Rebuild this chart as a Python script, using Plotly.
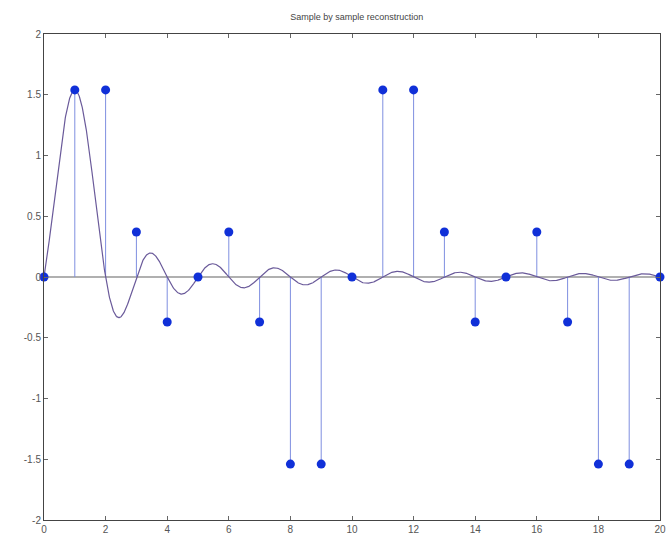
import numpy as np
import plotly.graph_objects as go

n = list(range(21))
samples = [0, 1.54, 1.54, 0.37, -0.37, 0, 0.37, -0.37, -1.54, -1.54, 0,
           1.54, 1.54, 0.37, -0.37, 0, 0.37, -0.37, -1.54, -1.54, 0]
recon_index = 1  # sample currently being reconstructed
x_ticks = [0, 2, 4, 6, 8, 10, 12, 14, 16, 18, 20]
y_ticks = [-2, -1.5, -1, -0.5, 0, 0.5, 1, 1.5, 2]
y_labels = ["-2", "-1.5", "-1", "-0.5", "0", "0.5", "1", "1.5", "2"]

# stems
sx, sy = [], []
for xi, yi in zip(n, samples):
    sx += [xi, xi, None]
    sy += [0, yi, None]

# reconstruction of single sample (sinc interpolation kernel)
t = np.linspace(0, 20, 2001)
curve = samples[recon_index] * np.sinc(t - n[recon_index])

fig = go.Figure()
fig.add_trace(go.Scatter(x=[0, 20], y=[0, 0], mode="lines",
                         line=dict(color="#b0b0b0", width=2), hoverinfo="skip"))
fig.add_trace(go.Scatter(x=sx, y=sy, mode="lines",
                         line=dict(color="#7f8fe0", width=1)))
fig.add_trace(go.Scatter(x=t, y=curve, mode="lines",
                         line=dict(color="#6a5a9a", width=1.2)))
fig.add_trace(go.Scatter(x=n, y=samples, mode="markers",
                         marker=dict(color="#1030d8", size=9), cliponaxis=False))

axis_common = dict(showgrid=False, zeroline=False, showline=True, linecolor="#444",
                   linewidth=1, mirror="ticks", ticks="inside", ticklen=4,
                   tickcolor="#666", automargin=False,
                   tickfont=dict(family="Liberation Sans", size=10, color="#555"))
fig.update_xaxes(range=[0, 20], tickvals=x_ticks, **axis_common)
fig.update_yaxes(range=[-2, 2], tickvals=y_ticks, ticktext=y_labels, **axis_common)

fig.update_layout(
    width=668, height=542,
    margin=dict(l=44, r=8, t=34, b=22),
    plot_bgcolor="white", paper_bgcolor="white",
    showlegend=False,
    title=dict(text="Sample by sample reconstruction", x=0.534, xanchor="center",
               y=0.969, yanchor="middle",
               font=dict(family="Liberation Sans", size=9, color="#444")),
)
fig.write_html("out.html", config={"displayModeBar": False},
               post_script="document.body.style.margin='0';document.body.style.overflow='hidden';")
